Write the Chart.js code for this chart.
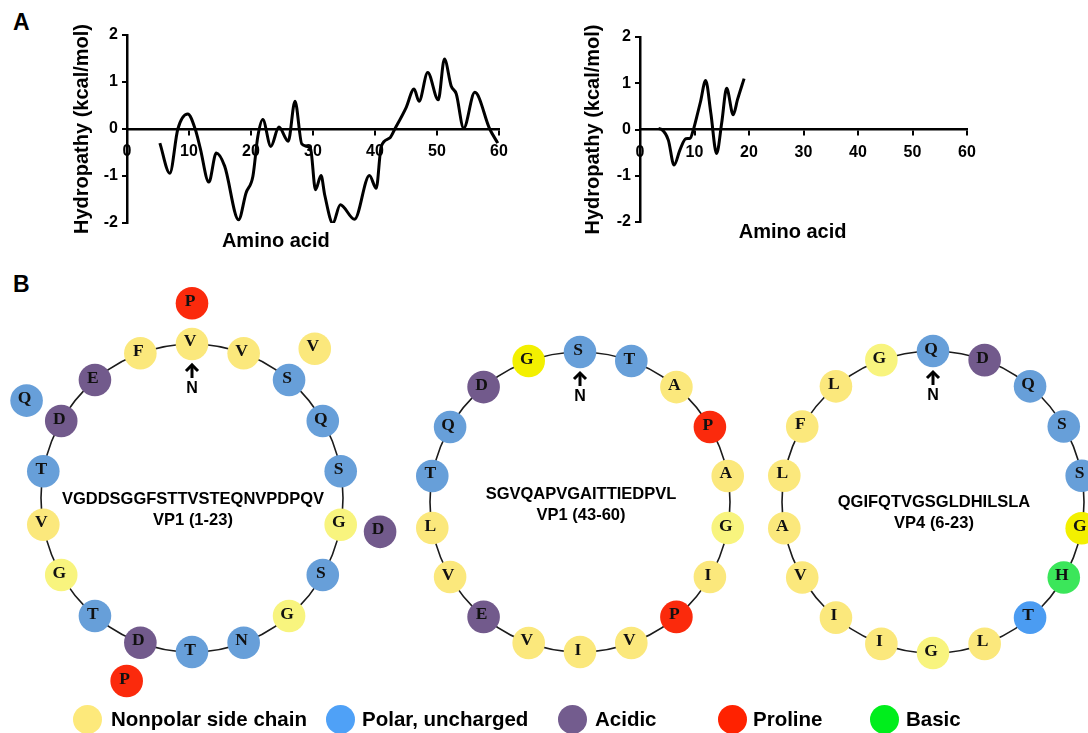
<!DOCTYPE html>
<html>
<head>
<meta charset="utf-8">
<script src="https://cdn.jsdelivr.net/npm/chart.js@4.4.1/dist/chart.umd.min.js"></script>
<style>
  html, body { margin: 0; padding: 0; background: #fff; }
  body { width: 1088px; height: 733px; position: relative; overflow: hidden;
         font-family: "Liberation Sans", Arial, sans-serif; color: #000; }
  canvas { position: absolute; }
  .panel { position: absolute; font-weight: bold; font-size: 23px; line-height: 1; }
  .dot { position: absolute; top: 705px; width: 29px; height: 29px; border-radius: 50%; }
  .key { position: absolute; top: 707px; font-weight: bold; font-size: 20.5px; line-height: 24px; white-space: nowrap; }
</style>
</head>
<body>
<div class="panel" style="left:13px;top:11px">A</div>
<div class="panel" style="left:13px;top:273px">B</div>

<canvas id="profile1" width="490" height="250" style="left:40px;top:15px"></canvas>
<canvas id="profile2" width="440" height="250" style="left:560px;top:15px"></canvas>

<canvas id="wheel1" width="440" height="440" style="left:-28px;top:278px"></canvas>
<canvas id="wheel2" width="440" height="440" style="left:360px;top:282px"></canvas>
<canvas id="wheel3" width="440" height="440" style="left:713px;top:282px"></canvas>

<div class="dot" style="left:73px;background:#fde97b"></div>
<div class="key" style="left:111px">Nonpolar side chain</div>
<div class="dot" style="left:326px;background:#4fa1f7"></div>
<div class="key" style="left:362px">Polar, uncharged</div>
<div class="dot" style="left:558px;background:#735c8e"></div>
<div class="key" style="left:595px">Acidic</div>
<div class="dot" style="left:718px;background:#ff2200"></div>
<div class="key" style="left:753px">Proline</div>
<div class="dot" style="left:870px;background:#00ee1c"></div>
<div class="key" style="left:906px">Basic</div>

<script>
// ---- Hydropathy profiles (kcal/mol vs. residue number) ----
const profile1X = [5.3, 6.9, 8.2, 9.8, 11.0, 11.8, 13.2, 14.4, 15.75, 18.0, 19.2, 20.3, 21.1, 21.9,
                   23.2, 24.5, 26.0, 27.1, 28.2, 29.6, 30.4, 31.3, 31.9, 33.2, 34.4, 36.7, 39.1,
                   40.2, 41.0, 42.4, 43.2, 45.0, 46.3, 47.1, 48.5, 50.2, 51.2, 52.3, 53.1, 54.3,
                   56.1, 58.5, 59.8];
const profile1Y = [-0.30, -0.94, 0.00, 0.32, 0.00, -0.40, -1.13, -0.51, -0.79, -1.93, -1.36, -1.01, -0.16, 0.20,
                   -0.37, 0.04, -0.26, 0.59, -0.32, -0.42, -1.29, -0.99, -1.41, -2.01, -1.61, -1.92, -0.99,
                   -1.26, -0.37, -0.19, 0.00, 0.45, 0.85, 0.59, 1.20, 0.62, 1.49, 0.91, 0.75, 0.02,
                   0.78, 0.00, -0.30];

const profile2X = [3.4, 4.0, 5.2, 6.25, 7.3, 8.4, 9.2, 9.8, 10.4, 11.1, 12.05, 13.0, 14.05, 15.0, 15.9, 17.1, 17.9, 19.1];
const profile2Y = [0.02, 0.00, -0.23, -0.77, -0.45, -0.20, -0.19, 0.00, 0.27, 0.60, 1.06, 0.35, -0.52, 0.15, 0.89, 0.32, 0.65, 1.10];

const xTicks = [0, 10, 20, 30, 40, 50, 60];
const yTicks = [-2, -1, 0, 1, 2];

// ---- Helical wheels: sequence and side-chain class of every residue ----
// n nonpolar, g glycine, y glycine (highlighted), u polar, w polar (highlighted),
// a acidic, p proline, b basic
const wheel1Residues = 'VGDDSGGFSTTVSTEQNVPDPQV'.split('');
const wheel1Classes  = 'ngaauggnuuunuuauunpapun'.split('');
const wheel2Residues = 'SGVQAPVGAITTIEDPVL'.split('');
const wheel2Classes  = 'ugnunpnynnuunaapnn'.split('');
const wheel3Residues = 'QGIFQTVGSGLDHILSLA'.split('');
const wheel3Classes  = 'uynnuwngugnabnnunn'.split('');

const wheel1Caption = ['VGDDSGGFSTTVSTEQNVPDPQV', 'VP1 (1-23)'];
const wheel2Caption = ['SGVQAPVGAITTIEDPVL', 'VP1 (43-60)'];
const wheel3Caption = ['QGIFQTVGSGLDHILSLA', 'VP4 (6-23)'];

const classColor = {
  n: '#fbe87c', g: '#f8f47e', y: '#f3f000',
  u: '#679fd9', w: '#4b9cf2', a: '#725a8c',
  p: '#fb2a0c', b: '#3be65a'
};

const SANS = '"Liberation Sans", Arial, sans-serif';
const SERIF = '"Liberation Serif", "Times New Roman", serif';

// caption under a profile plot, centred on a value of the x scale
const axisCaption = {
  id: 'axisCaption',
  afterDraw(chart, args, opts) {
    const { ctx, chartArea, scales } = chart;
    ctx.save();
    ctx.font = 'bold 20px ' + SANS;
    ctx.fillStyle = '#000';
    ctx.textAlign = 'center';
    ctx.textBaseline = 'middle';
    ctx.fillText(opts.text, scales.x.getPixelForValue(opts.at), chartArea.bottom + opts.dy);
    ctx.restore();
  }
};

function profileChart(id, xs, ys, g) {
  const tickFont = { family: SANS, weight: 'bold', size: 16 };
  return new Chart(document.getElementById(id), {
    type: 'scatter',
    data: {
      datasets: [{
        data: xs.map((x, i) => ({ x, y: ys[i] })),
        showLine: true,
        borderColor: '#000',
        borderWidth: 3,
        pointRadius: 0,
        cubicInterpolationMode: 'monotone',
        fill: false
      }]
    },
    options: {
      responsive: false,
      animation: false,
      layout: { autoPadding: false, padding: { left: 0, right: g.right, top: g.top, bottom: g.bottom } },
      plugins: {
        legend: { display: false },
        tooltip: { enabled: false },
        axisCaption: { text: 'Amino acid', at: g.captionAt, dy: g.captionDy }
      },
      scales: {
        x: {
          type: 'linear', min: 0, max: 60,
          position: { y: 0 },
          afterBuildTicks: s => { s.ticks = xTicks.map(v => ({ value: v })); },
          grid: { drawOnChartArea: false, drawTicks: true, tickLength: 5, color: '#000', lineWidth: 2 },
          border: { display: true, color: '#000', width: 2.5 },
          ticks: { color: '#000', font: tickFont, padding: 8, maxRotation: 0, autoSkip: false }
        },
        y: {
          type: 'linear', min: -2, max: 2,
          afterBuildTicks: s => { s.ticks = yTicks.map(v => ({ value: v })); },
          afterFit: s => { s.width = g.yWidth; },
          grid: { drawOnChartArea: false, drawTicks: true, tickLength: 5, color: '#000', lineWidth: 2 },
          border: { display: true, color: '#000', width: 2.5 },
          ticks: { color: '#000', font: tickFont, padding: 4 },
          title: {
            display: true, text: 'Hydropathy (kcal/mol)', color: '#000',
            font: { family: SANS, weight: 'bold', size: 20 },
            padding: { top: g.titlePad, bottom: 0 }
          }
        }
      }
    },
    plugins: [axisCaption]
  });
}

profileChart('profile1', profile1X, profile1Y,
  { right: 31, top: 20, bottom: 42, yWidth: 87, titlePad: 30, captionAt: 24, captionDy: 18 });
profileChart('profile2', profile2X, profile2Y,
  { right: 33, top: 22, bottom: 43, yWidth: 80, titlePad: 21, captionAt: 28, captionDy: 10 });

// ring, residue letters, N-terminus arrow and caption of a helical wheel
const wheelDecor = {
  id: 'wheelDecor',
  beforeDatasetsDraw(chart, args, opts) {
    const { ctx, scales } = chart;
    const cx = scales.x.getPixelForValue(0), cy = scales.y.getPixelForValue(0);
    const rx = scales.x.getPixelForValue(opts.ring) - cx;
    const ry = cy - scales.y.getPixelForValue(opts.ring);
    ctx.save();
    ctx.strokeStyle = '#1b1b1b';
    ctx.lineWidth = 1.6;
    ctx.beginPath();
    ctx.ellipse(cx, cy, rx, ry, 0, 0, Math.PI * 2);
    ctx.stroke();
    ctx.restore();
  },
  afterDatasetsDraw(chart, args, opts) {
    const { ctx, scales } = chart;
    const meta = chart.getDatasetMeta(0);
    ctx.save();
    ctx.fillStyle = '#111';
    ctx.textAlign = 'center';
    ctx.textBaseline = 'middle';
    ctx.font = 'bold 17.5px ' + SERIF;
    meta.data.forEach((pt, i) => ctx.fillText(opts.residues[i], pt.x - 2, pt.y - 2));

    // N-terminus marker below the first residue
    const top = meta.data[0];
    const tip = top.y + 20;
    ctx.strokeStyle = '#000';
    ctx.lineWidth = 3;
    ctx.lineCap = 'butt';
    ctx.beginPath();
    ctx.moveTo(top.x, tip + 1);
    ctx.lineTo(top.x, tip + 14);
    ctx.stroke();
    ctx.lineJoin = 'miter';
    ctx.beginPath();
    ctx.moveTo(top.x - 6, tip + 7);
    ctx.lineTo(top.x, tip + 1);
    ctx.lineTo(top.x + 6, tip + 7);
    ctx.stroke();
    ctx.fillStyle = '#000';
    ctx.font = 'bold 16px ' + SANS;
    ctx.fillText('N', top.x, tip + 25);

    // sequence and segment name in the middle
    const cx = scales.x.getPixelForValue(0), cy = scales.y.getPixelForValue(0);
    ctx.font = 'bold 16.5px ' + SANS;
    ctx.fillText(opts.caption[0], cx + 1, cy + opts.captionDy);
    ctx.fillText(opts.caption[1], cx + 1, cy + opts.captionDy + 21);
    ctx.restore();
  }
};

function wheelChart(id, residues, classes, caption, ring, captionDy, stretch) {
  // 100 degrees per residue; the 19th residue onward sits on an outer turn
  const points = residues.map((aa, i) => {
    const a = ((i * 100) % 360) * Math.PI / 180;
    const r = i < 18 ? ring : ring + 40;
    return { x: r * Math.sin(a), y: r * Math.cos(a) };
  });
  const yHalf = 220 / stretch;
  return new Chart(document.getElementById(id), {
    type: 'scatter',
    data: {
      datasets: [{
        data: points,
        pointRadius: 16.3,
        pointHoverRadius: 16.3,
        pointBorderWidth: 0,
        pointBackgroundColor: classes.map(c => classColor[c]),
        showLine: false
      }]
    },
    options: {
      responsive: false,
      animation: false,
      events: [],
      layout: { autoPadding: false, padding: 0 },
      plugins: {
        legend: { display: false },
        tooltip: { enabled: false },
        wheelDecor: { residues, caption, ring, captionDy }
      },
      scales: {
        x: { type: 'linear', min: -220, max: 220, display: false },
        y: { type: 'linear', min: -yHalf, max: yHalf, display: false }
      }
    },
    plugins: [wheelDecor]
  });
}

wheelChart('wheel1', wheel1Residues, wheel1Classes, wheel1Caption, 151, 1, 1.02);
wheelChart('wheel2', wheel2Residues, wheel2Classes, wheel2Caption, 150, -8, 1.0);
wheelChart('wheel3', wheel3Residues, wheel3Classes, wheel3Caption, 151, 0, 1.0);
</script>
</body>
</html>
